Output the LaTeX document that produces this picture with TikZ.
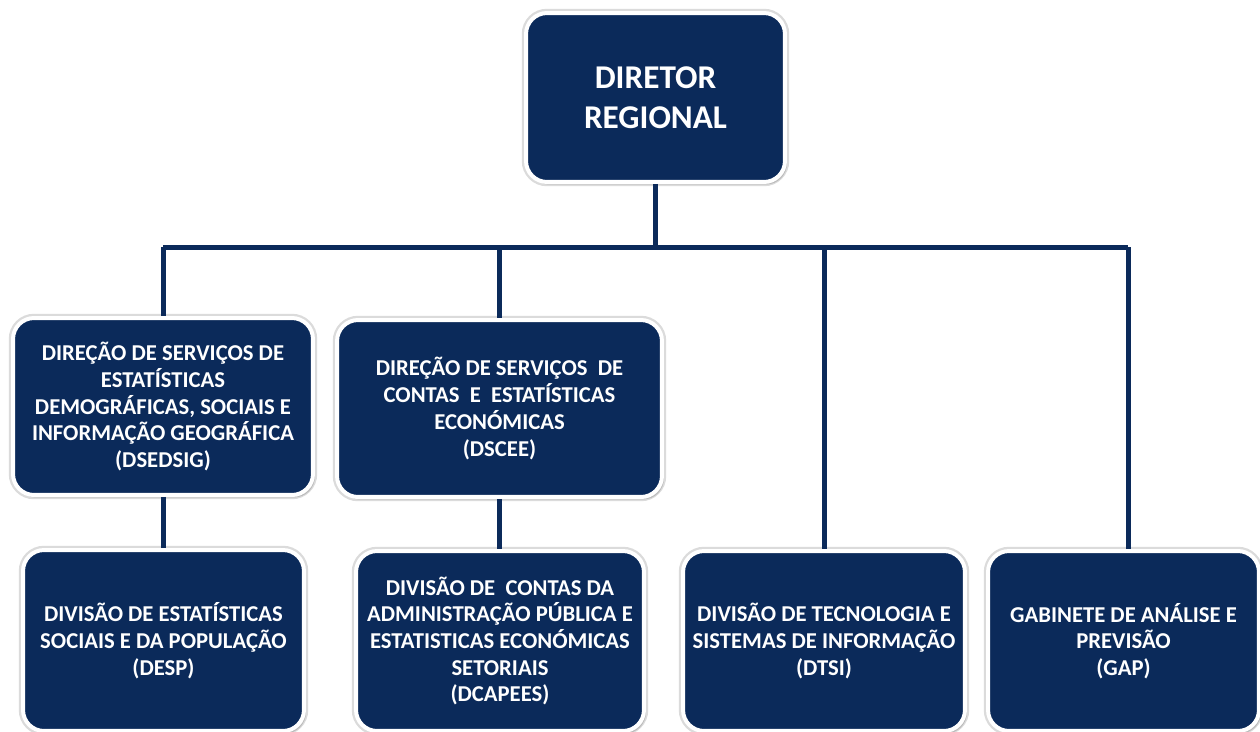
\documentclass[tikz,border=0pt]{standalone}
\usepackage{fontspec}
\setmainfont{Carlito}
\usepackage{xcolor}
\usetikzlibrary{positioning,shadows}
\definecolor{navy}{HTML}{0B2A5A}

\begin{document}
\begin{tikzpicture}[x=0.02cm, y=-0.02cm]
  \tikzset{
    unit/.style={draw=white, line width=0.08cm, rounded corners=0.42cm, fill=navy, text=white, align=center, inner sep=0pt,
      font=\bfseries\fontsize{12.9}{15.2}\selectfont,
      preaction={draw=black!14, line width=0.17cm},
      drop shadow={shadow xshift=0.04cm, shadow yshift=-0.05cm, fill=black, opacity=0.15}},
    head/.style={unit, font=\bfseries\fontsize{18.9}{22.8}\selectfont},
    link/.style={draw=navy, line width=0.1cm}
  }
  \useasboundingbox[fill=white] (0,0) rectangle (1260,731);

  \node[head, minimum width=5.18cm, minimum height=3.38cm] (director) at (655.5,97.5) {DIRETOR\\REGIONAL};
  \node[unit, minimum width=6cm, minimum height=3.54cm] (dsedsig) at (163,406.5) {DIREÇÃO DE SERVIÇOS DE\\ESTATÍSTICAS\\DEMOGRÁFICAS, SOCIAIS E\\INFORMAÇÃO GEOGRÁFICA\\(DSEDSIG)};
  \node[unit, minimum width=6.5cm, minimum height=3.54cm] (dscee) at (499.5,408.5) {DIREÇÃO DE SERVIÇOS\ \ DE\\CONTAS\ \ E\ \ ESTATÍSTICAS\\ECONÓMICAS\\(DSCEE)};
  \node[unit, minimum width=5.62cm, minimum height=3.62cm] (desp) at (163.5,640.5) {DIVISÃO DE ESTATÍSTICAS\\SOCIAIS E DA POPULAÇÃO\\(DESP)};
  \node[unit, minimum width=5.76cm, minimum height=3.6cm] (dcapees) at (500,641) {DIVISÃO DE\ \ CONTAS DA\\ADMINISTRAÇÃO PÚBLICA E\\ESTATISTICAS ECONÓMICAS\\SETORIAIS\\(DCAPEES)};
  \node[unit, minimum width=5.64cm, minimum height=3.6cm] (dtsi) at (824,641) {DIVISÃO DE TECNOLOGIA E\\SISTEMAS DE INFORMAÇÃO\\(DTSI)};
  \node[unit, minimum width=5.42cm, minimum height=3.6cm] (gap) at (1123.5,641) {GABINETE DE ANÁLISE E\\PREVISÃO\\(GAP)};

  \coordinate (busleft) at (163,247);
  \coordinate (busright) at (1128,247);

  \draw[link] (busleft) -- (busright);
  \draw[link] (director.south) -- (director.south |- busleft);
  \draw[link] (busleft) -- (dsedsig.north);
  \draw[link] (dscee.north |- busleft) -- (dscee.north);
  \draw[link] (dtsi.north |- busleft) -- (dtsi.north);
  \draw[link] (busright) -- (busright |- gap.north);
  \draw[link] (dsedsig.south) -- (desp.north -| dsedsig.south);
  \draw[link] (dscee.south) -- (dcapees.north -| dscee.south);
\end{tikzpicture}
\end{document}
